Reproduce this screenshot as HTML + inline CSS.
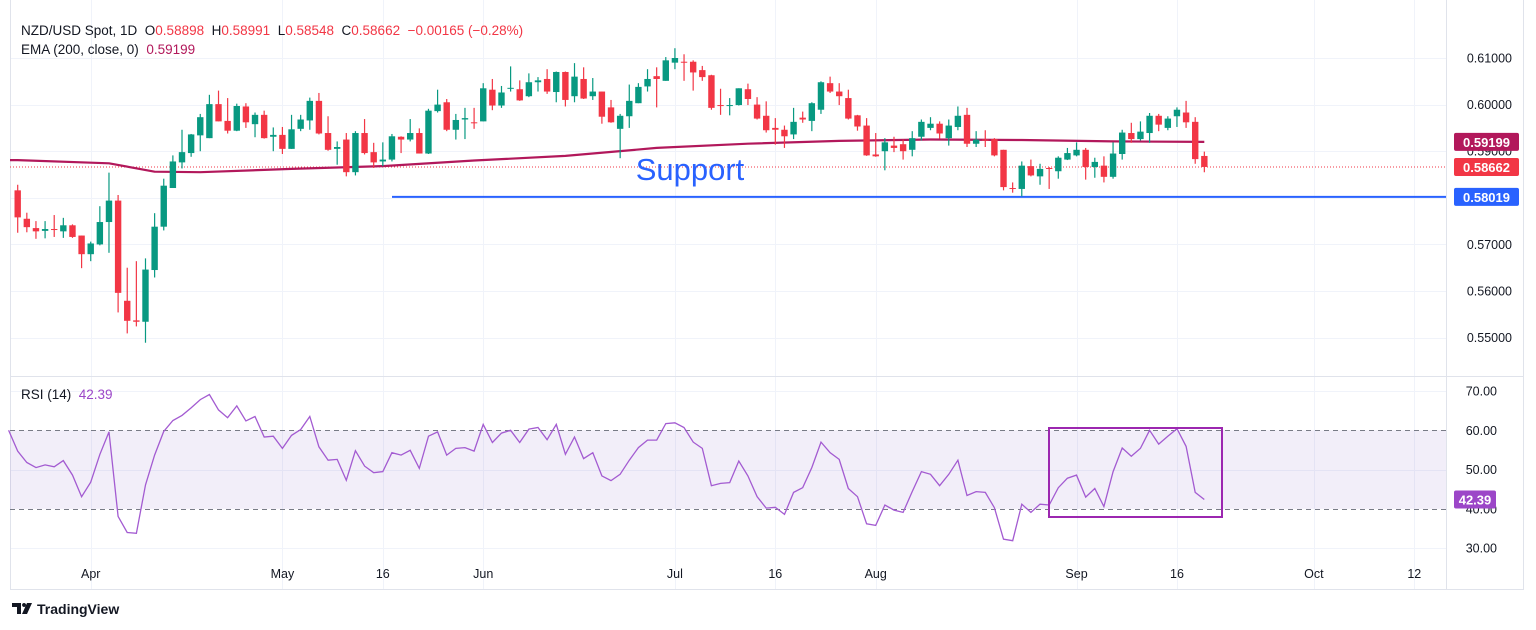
<!DOCTYPE html>
<html><head><meta charset="utf-8">
<style>
html,body{margin:0;padding:0;background:#fff;}
body{width:1536px;height:630px;overflow:hidden;position:relative;font-family:"Liberation Sans",sans-serif;}
svg{position:absolute;left:0;top:0;}
svg text{white-space:pre;}
</style></head>
<body>
<svg id="chart" width="1536" height="630" xmlns="http://www.w3.org/2000/svg"></svg>
<script>
const opens=[.5816,.5755,.5735,.5729,.5733,.5728,.5741,.5719,.5679,.5700,.5748,.5794,.5579,.5537,.5534,.5645,.5738,.5821,.5876,.5896,.5934,.5928,.6001,.5965,.5944,.5996,.5958,.5978,.5931,.5935,.5905,.5948,.5966,.6008,.5939,.5905,.5925,.5855,.5939,.5898,.5878,.5882,.5931,.5925,.5939,.5895,.5986,.6005,.5946,.5968,.5962,.5964,.6032,.5998,.6034,.6033,.6018,.6048,.6055,.6027,.6070,.6018,.6055,.6018,.6028,.5994,.5948,.5975,.6003,.6039,.6061,.6051,.6090,.6092,.6092,.6074,.6063,.5999,.5998,.5999,.6033,.6000,.5976,.5950,.5946,.5936,.5972,.5965,.5989,.6046,.6028,.6014,.5977,.5955,.5893,.5900,.5912,.5915,.5903,.5931,.5950,.5959,.5928,.5952,.5978,.5916,.5925,.5926,.5903,.5821,.5819,.5868,.5846,.5864,.5857,.5882,.5891,.5903,.5866,.5869,.5845,.5894,.5939,.5926,.5939,.5976,.5950,.5975,.5983,.5963,.58898];
const highs=[.5828,.5768,.5750,.5750,.5763,.5757,.5743,.5719,.5706,.5782,.5854,.5806,.5650,.5664,.5670,.5767,.5841,.5891,.5946,.5937,.5980,.6021,.6030,.6014,.6002,.6003,.5983,.5987,.5951,.5952,.5978,.5978,.6015,.6025,.5975,.5921,.5939,.5943,.5969,.5918,.5919,.5937,.5932,.5969,.5949,.5991,.6032,.6012,.5980,.5993,.5993,.6046,.6055,.6040,.6082,.6052,.6067,.6059,.6076,.6071,.6071,.6089,.6080,.6057,.6028,.6010,.5980,.6043,.6046,.6076,.6080,.6102,.6121,.6108,.6095,.6083,.6064,.6034,.6014,.6035,.6045,.6016,.6007,.5971,.5955,.5993,.5985,.6005,.6050,.6060,.6046,.6032,.5978,.5971,.5939,.5928,.5931,.5925,.5943,.5968,.5973,.5964,.5968,.5996,.5993,.5943,.5945,.5928,.5903,.5833,.5878,.5882,.5873,.5866,.5889,.5907,.5919,.5907,.5886,.5889,.5919,.5946,.5961,.5964,.5982,.5980,.5975,.5994,.6008,.5973,.58991];
const lows=[.5725,.5726,.5712,.5713,.5716,.5714,.5714,.5649,.5664,.5698,.5682,.5554,.5509,.5524,.5489,.5629,.5730,.5821,.5863,.5888,.5900,.5928,.5964,.5938,.5943,.5950,.5930,.5927,.5900,.5894,.5905,.5943,.5946,.5936,.5901,.5871,.5846,.5848,.5893,.5864,.5868,.5878,.5896,.5921,.5895,.5894,.5983,.5943,.5925,.5926,.5948,.5964,.5988,.5993,.6028,.6008,.6016,.6028,.6023,.6005,.5996,.6005,.6012,.6010,.5959,.5961,.5885,.5950,.6003,.6028,.5994,.6051,.6076,.6051,.6030,.6051,.5989,.5978,.5977,.5998,.5999,.5968,.5940,.5914,.5907,.5926,.5961,.5943,.5980,.6025,.5999,.5968,.5944,.5890,.5888,.5859,.5898,.5882,.5889,.5923,.5945,.5927,.5912,.5945,.5909,.5909,.5909,.5889,.5816,.5811,.5803,.5846,.5828,.5819,.5841,.5881,.5889,.5839,.5843,.5833,.5841,.5882,.5918,.5923,.5918,.5943,.5945,.5952,.5950,.5873,.58548];
const closes=[.5758,.5737,.5728,.5733,.5731,.5741,.5716,.5679,.5702,.5748,.5794,.5596,.5536,.5534,.5646,.5738,.5826,.5878,.5898,.5936,.5973,.6001,.5964,.5944,.5997,.5962,.5978,.5928,.5935,.5905,.5947,.5968,.6008,.5938,.5903,.5909,.5855,.5939,.5896,.5876,.5882,.5932,.5925,.5939,.5895,.5987,.6000,.5946,.5967,.5971,.5961,.6035,.5998,.6026,.6036,.6009,.6048,.6052,.6028,.6070,.6010,.6060,.6013,.6028,.5974,.5962,.5976,.6008,.6038,.6055,.6055,.6095,.6100,.6090,.6069,.6059,.5993,.5998,.5999,.6035,.6012,.5970,.5945,.5946,.5932,.5963,.5968,.6003,.6048,.6028,.6018,.5970,.5953,.5891,.5889,.5919,.5907,.5900,.5928,.5963,.5959,.5938,.5955,.5976,.5916,.5925,.5923,.5891,.5823,.5819,.5869,.5848,.5862,.5862,.5886,.5896,.5903,.5866,.5877,.5845,.5895,.5940,.5926,.5942,.5976,.5957,.5970,.5989,.5962,.5883,.58662];
const emaIdx=[0,10,15,20,30,40,50,60,70,80,90,100,110,120,130];
const emaVals=[.5881,.5874,.5856,.5855,.5862,.5868,.5880,.5890,.5907,.5916,.5922,.5925,.5924,.5921,.5920];
const rsiVals=[60.0,54.7,51.8,50.5,51.2,50.7,52.3,48.6,43.1,46.8,53.9,59.6,38.1,34.0,33.8,46.1,53.7,59.7,62.5,63.8,65.7,67.8,69.1,65.2,63.2,66.2,62.4,63.5,58.3,58.5,55.4,58.7,60.2,63.5,55.8,52.4,52.6,47.3,54.8,50.9,49.2,49.5,54.3,53.7,54.9,50.3,58.5,59.6,53.7,55.4,55.6,54.7,61.5,56.9,59.3,60.0,56.9,60.3,60.7,57.6,61.5,53.9,58.3,52.8,54.3,48.4,47.2,48.8,52.4,55.6,57.5,57.5,61.7,61.9,60.7,57.0,55.4,45.9,46.5,46.7,52.2,48.4,43.1,40.2,40.4,38.6,44.2,45.4,50.5,57.0,54.3,52.6,45.2,43.1,36.2,35.8,41.0,39.7,39.1,44.4,49.5,48.8,45.9,48.8,52.4,43.4,44.4,44.2,40.3,32.3,31.9,41.2,39.1,41.2,41.0,45.4,47.8,48.6,43.0,45.2,40.6,49.5,55.5,53.4,55.4,60.0,56.5,58.5,60.4,55.9,44.2,42.39];
const priceTicks=[0.61,0.60,0.59,0.58,0.57,0.56,0.55];
const rsiTicks=[70,60,50,40,30];
const dateLabels=["Apr","May","16","Jun","Jul","16","Aug","Sep","16","Oct","12"];
const dateIdx=[8,29,40,51,72,83,94,116,127,142,153];
const lastClose=0.58662, emaLast=0.59199, supportLevel=0.58019, rsiLast=42.39;

const NS="http://www.w3.org/2000/svg";
const svg=document.getElementById('chart');
function el(t,a,p){const e=document.createElementNS(NS,t);for(const k in a)e.setAttribute(k,a[k]);(p||svg).appendChild(e);return e;}
const X=i=>17.7+i*9.128;
const PY=p=>58+(0.61-p)*4660;
const RY=v=>391+(70-v)*3.93;
const PLOT_R=1446;

const grid=el('g',{});

dateIdx.forEach(i=>{const x=Math.round(X(i))+0.5;el('line',{x1:x,x2:x,y1:0,y2:590,stroke:'#f0f3fa','stroke-width':1},grid);});
priceTicks.forEach(p=>{const y=Math.round(PY(p))+0.5;el('line',{x1:10,x2:PLOT_R,y1:y,y2:y,stroke:'#f0f3fa'},grid);});
[70,50,30].forEach(v=>{const y=Math.round(RY(v))+0.5;el('line',{x1:10,x2:PLOT_R,y1:y,y2:y,stroke:'#f0f3fa'},grid);});
el('line',{x1:10.5,x2:10.5,y1:0,y2:590,stroke:'#e0e3eb'});
el('line',{x1:10,x2:1523,y1:376.5,y2:376.5,stroke:'#e0e3eb'});
el('line',{x1:10,x2:1523,y1:589.5,y2:589.5,stroke:'#e0e3eb'});
el('line',{x1:PLOT_R+.5,x2:PLOT_R+.5,y1:0,y2:590,stroke:'#e0e3eb'});
el('line',{x1:1523.5,x2:1523.5,y1:0,y2:590,stroke:'#e0e3eb'});

const lc=el('line',{x1:10,x2:PLOT_R,y1:PY(lastClose),y2:PY(lastClose),stroke:'#f23645','stroke-width':1,'stroke-dasharray':'1 2'});


let d='';emaIdx.forEach((i,k)=>{d+=(k?'L':'M')+X(i).toFixed(1)+' '+PY(emaVals[k]).toFixed(1);});
d='M10 '+PY(emaVals[0]).toFixed(1)+' L'+d.slice(1);
const ema=el('path',{d:d,fill:'none',stroke:'#b2185b','stroke-width':2.2,'stroke-linejoin':'round'});


const sp=el('line',{x1:392,x2:PLOT_R,y1:PY(supportLevel),y2:PY(supportLevel),stroke:'#2962ff','stroke-width':2});

const st=el('text',{x:690,y:180,'font-size':31,fill:'#2962ff','text-anchor':'middle','font-family':'Liberation Sans, sans-serif'});
st.textContent='Support';


const cg=el('g',{});

for(let i=0;i<closes.length;i++){
  const up=closes[i]>=opens[i];const col=up?'#089981':'#f23645';
  const x=X(i);const g=el('g',{},cg);
  
  el('line',{x1:x,x2:x,y1:PY(highs[i]),y2:PY(lows[i]),stroke:col,'stroke-width':1.2},g);
  const t=PY(Math.max(opens[i],closes[i])),b=PY(Math.min(opens[i],closes[i]));
  el('rect',{x:x-3.2,y:t,width:6.4,height:Math.max(1,b-t),fill:col},g);
}

const band=el('rect',{x:10,y:RY(60),width:PLOT_R-10,height:RY(40)-RY(60),fill:'#7e57c2','fill-opacity':0.1});

[60,40].forEach(v=>{const y=Math.round(RY(v))+.5;el('line',{x1:10,x2:PLOT_R,y1:y,y2:y,stroke:'#787b86','stroke-dasharray':'5 4'});});
let rd='';rsiVals.forEach((v,k)=>{rd+=(k?'L':'M')+X(k-1).toFixed(1)+' '+RY(v).toFixed(1);});
const rl=el('path',{d:rd,fill:'none',stroke:'#a35bd1','stroke-width':1.3});

const box=el('rect',{x:1049,y:428,width:173,height:89,fill:'none',stroke:'#9c27b0','stroke-width':2});


const fam='Liberation Sans, sans-serif';
priceTicks.forEach(p=>{const t=el('text',{x:1512,y:PY(p)+4.5,'font-size':12.5,fill:'#131722','text-anchor':'end','font-family':fam});t.textContent=p.toFixed(5);
});
rsiTicks.forEach(v=>{const t=el('text',{x:1497,y:RY(v)+4.5,'font-size':12.5,fill:'#131722','text-anchor':'end','font-family':fam});t.textContent=v.toFixed(2);
});
function tag(v,y,bg,name,w){const g=el('g',{});
 el('rect',{x:1454,y:y-9,width:w,height:18,rx:2,fill:bg},g);
 const t=el('text',{x:1454+w/2,y:y+5,'font-size':13,'font-weight':'bold',fill:'#fff','text-anchor':'middle','font-family':fam},g);t.textContent=v;}
tag(emaLast.toFixed(5),PY(emaLast),'#b2185b','ema-value-tag',65);
tag(lastClose.toFixed(5),PY(lastClose),'#f23645','last-price-tag',65);
tag(supportLevel.toFixed(5),PY(supportLevel),'#2962ff','support-value-tag',65);
tag(rsiLast.toFixed(2),RY(rsiLast),'#9c46c8','rsi-value-tag',42);

dateLabels.forEach((s,k)=>{const t=el('text',{x:X(dateIdx[k]),y:578,'font-size':12.5,fill:'#131722','text-anchor':'middle','font-family':fam});t.textContent=s;
});

function hdr(x,y,parts,name){const t=el('text',{x:x,y:y,'font-size':13.5,'font-family':fam});
 parts.forEach(([s,c])=>{const ts=el('tspan',{fill:c},t);ts.textContent=s;});}
hdr(21,35,[['NZD/USD Spot, 1D  O','#131722'],['0.58898','#f23645'],['  H','#131722'],['0.58991','#f23645'],['  L','#131722'],['0.58548','#f23645'],['  C','#131722'],['0.58662','#f23645'],['  −0.00165 (−0.28%)','#f23645']],'ohlc-header');
hdr(21,54,[['EMA (200, close, 0)  ','#131722'],['0.59199','#b2185b']],'ema-legend');
hdr(21,399,[['RSI (14)  ','#131722'],['42.39','#9c46c8']],'rsi-legend');

const lg=el('g',{});
el('path',{d:'M12 603h9v11h-4v-7h-5z M24 603a2 2 0 1 0 .1 0z M27 603h5l-5 11h-5z',fill:'#131722'},lg);
const lt=el('text',{x:37,y:614,'font-size':14,'font-weight':'bold',fill:'#131722','font-family':fam},lg);lt.textContent='TradingView';
</script>
</body></html>
